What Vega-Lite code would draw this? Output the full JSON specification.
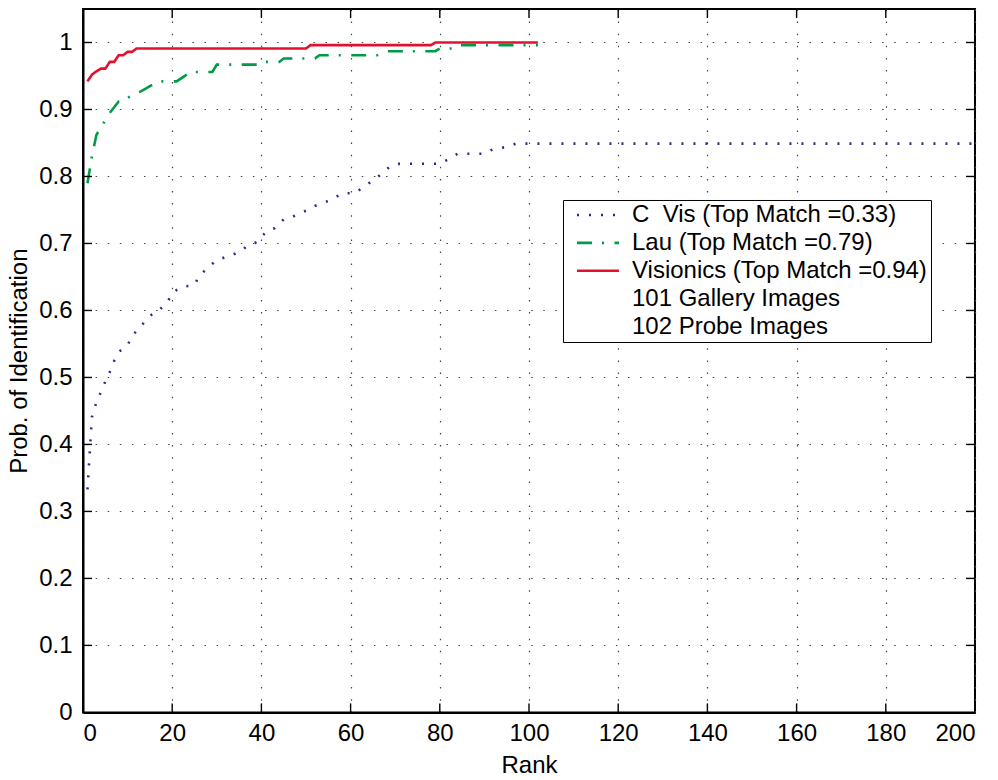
{
  "$schema": "https://vega.github.io/schema/vega-lite/v6.json",
  "width": 892,
  "height": 703.4,
  "autosize": "none",
  "padding": {"left": 83, "top": 9, "right": 23, "bottom": 68},
  "background": "white",
  "config": {
    "font": "Liberation Sans",
    "view": {"stroke": "black", "strokeWidth": 2},
    "axis": {
      "domainColor": "black",
      "domainWidth": 2,
      "labelColor": "black",
      "labelFont": "Liberation Sans",
      "labelFontSize": 24,
      "titleFont": "Liberation Sans",
      "titleFontSize": 24,
      "titleFontWeight": "normal",
      "titleColor": "black",
      "gridColor": "#444444",
      "gridWidth": 1.2,
      "gridDash": [1.5, 10.6],
      "gridOpacity": 1
    }
  },
  "datasets": {
    "curves": [
      {"series": "CVis", "rank": 1, "p": 0.333},
      {"series": "CVis", "rank": 2, "p": 0.441},
      {"series": "CVis", "rank": 3, "p": 0.463},
      {"series": "CVis", "rank": 4, "p": 0.478},
      {"series": "CVis", "rank": 5, "p": 0.494},
      {"series": "CVis", "rank": 6, "p": 0.508},
      {"series": "CVis", "rank": 7, "p": 0.525},
      {"series": "CVis", "rank": 8, "p": 0.538},
      {"series": "CVis", "rank": 10, "p": 0.548},
      {"series": "CVis", "rank": 11, "p": 0.562},
      {"series": "CVis", "rank": 13, "p": 0.577},
      {"series": "CVis", "rank": 15, "p": 0.592},
      {"series": "CVis", "rank": 17, "p": 0.6},
      {"series": "CVis", "rank": 19, "p": 0.613},
      {"series": "CVis", "rank": 20, "p": 0.626},
      {"series": "CVis", "rank": 22, "p": 0.635},
      {"series": "CVis", "rank": 25, "p": 0.638},
      {"series": "CVis", "rank": 26, "p": 0.651},
      {"series": "CVis", "rank": 28, "p": 0.664},
      {"series": "CVis", "rank": 30, "p": 0.675},
      {"series": "CVis", "rank": 33, "p": 0.682},
      {"series": "CVis", "rank": 35, "p": 0.687},
      {"series": "CVis", "rank": 37, "p": 0.697},
      {"series": "CVis", "rank": 39, "p": 0.702},
      {"series": "CVis", "rank": 41, "p": 0.717},
      {"series": "CVis", "rank": 43, "p": 0.723},
      {"series": "CVis", "rank": 45, "p": 0.736},
      {"series": "CVis", "rank": 47, "p": 0.74},
      {"series": "CVis", "rank": 50, "p": 0.749},
      {"series": "CVis", "rank": 52, "p": 0.756},
      {"series": "CVis", "rank": 54, "p": 0.761},
      {"series": "CVis", "rank": 56, "p": 0.766},
      {"series": "CVis", "rank": 58, "p": 0.775},
      {"series": "CVis", "rank": 61, "p": 0.775},
      {"series": "CVis", "rank": 63, "p": 0.785},
      {"series": "CVis", "rank": 65, "p": 0.794},
      {"series": "CVis", "rank": 67, "p": 0.804},
      {"series": "CVis", "rank": 69, "p": 0.816},
      {"series": "CVis", "rank": 71, "p": 0.819},
      {"series": "CVis", "rank": 80, "p": 0.819},
      {"series": "CVis", "rank": 82, "p": 0.826},
      {"series": "CVis", "rank": 84, "p": 0.834},
      {"series": "CVis", "rank": 90, "p": 0.834},
      {"series": "CVis", "rank": 92, "p": 0.841},
      {"series": "CVis", "rank": 95, "p": 0.844},
      {"series": "CVis", "rank": 97, "p": 0.849},
      {"series": "CVis", "rank": 200, "p": 0.849},
      {"series": "Lau", "rank": 1, "p": 0.79},
      {"series": "Lau", "rank": 2, "p": 0.83},
      {"series": "Lau", "rank": 3, "p": 0.862},
      {"series": "Lau", "rank": 5, "p": 0.884},
      {"series": "Lau", "rank": 6, "p": 0.895},
      {"series": "Lau", "rank": 8, "p": 0.912},
      {"series": "Lau", "rank": 9, "p": 0.912},
      {"series": "Lau", "rank": 11, "p": 0.922},
      {"series": "Lau", "rank": 13, "p": 0.927},
      {"series": "Lau", "rank": 15, "p": 0.935},
      {"series": "Lau", "rank": 17, "p": 0.942},
      {"series": "Lau", "rank": 21, "p": 0.942},
      {"series": "Lau", "rank": 23, "p": 0.951},
      {"series": "Lau", "rank": 24, "p": 0.956},
      {"series": "Lau", "rank": 29, "p": 0.956},
      {"series": "Lau", "rank": 30, "p": 0.967},
      {"series": "Lau", "rank": 40, "p": 0.967},
      {"series": "Lau", "rank": 41, "p": 0.971},
      {"series": "Lau", "rank": 44, "p": 0.971},
      {"series": "Lau", "rank": 45, "p": 0.976},
      {"series": "Lau", "rank": 52, "p": 0.976},
      {"series": "Lau", "rank": 53, "p": 0.981},
      {"series": "Lau", "rank": 66, "p": 0.981},
      {"series": "Lau", "rank": 68, "p": 0.987},
      {"series": "Lau", "rank": 79, "p": 0.987},
      {"series": "Lau", "rank": 80, "p": 0.991},
      {"series": "Lau", "rank": 83, "p": 0.991},
      {"series": "Lau", "rank": 84, "p": 0.996},
      {"series": "Lau", "rank": 102, "p": 0.996},
      {"series": "Visionics", "rank": 1, "p": 0.942},
      {"series": "Visionics", "rank": 2, "p": 0.952},
      {"series": "Visionics", "rank": 3, "p": 0.957},
      {"series": "Visionics", "rank": 4, "p": 0.961},
      {"series": "Visionics", "rank": 5, "p": 0.961},
      {"series": "Visionics", "rank": 6, "p": 0.971},
      {"series": "Visionics", "rank": 7, "p": 0.971},
      {"series": "Visionics", "rank": 8, "p": 0.981},
      {"series": "Visionics", "rank": 9, "p": 0.981},
      {"series": "Visionics", "rank": 10, "p": 0.986},
      {"series": "Visionics", "rank": 11, "p": 0.986},
      {"series": "Visionics", "rank": 12, "p": 0.991},
      {"series": "Visionics", "rank": 50, "p": 0.991},
      {"series": "Visionics", "rank": 51, "p": 0.996},
      {"series": "Visionics", "rank": 78, "p": 0.996},
      {"series": "Visionics", "rank": 79, "p": 1.0},
      {"series": "Visionics", "rank": 102, "p": 1.0}
    ],
    "xticks": [
      {"rank": 20}, {"rank": 40}, {"rank": 60}, {"rank": 80}, {"rank": 100},
      {"rank": 120}, {"rank": 140}, {"rank": 160}, {"rank": 180}
    ],
    "yticks": [
      {"p": 0.1}, {"p": 0.2}, {"p": 0.3}, {"p": 0.4}, {"p": 0.5},
      {"p": 0.6}, {"p": 0.7}, {"p": 0.8}, {"p": 0.9}, {"p": 1}
    ]
  },
  "layer": [
    {
      "data": {"name": "curves"},
      "mark": {"type": "line", "strokeWidth": 2.6, "clip": true},
      "encoding": {
        "x": {
          "field": "rank", "type": "quantitative",
          "scale": {"domain": [0, 200], "nice": false, "zero": false},
          "axis": {"values": [0, 20, 40, 60, 80, 100, 120, 140, 160, 180, 200], "title": "Rank", "ticks": false, "labelPadding": 9, "titlePadding": 8, "grid": true}
        },
        "y": {
          "field": "p", "type": "quantitative",
          "scale": {"domain": [0, 1.05], "nice": false, "zero": false},
          "axis": {"values": [0, 0.1, 0.2, 0.3, 0.4, 0.5, 0.6, 0.7, 0.8, 0.9, 1], "format": "~g", "title": "Prob. of Identification", "ticks": false, "labelPadding": 11, "titlePadding": 7, "grid": true}
        },
        "color": {
          "field": "series", "type": "nominal",
          "scale": {"domain": ["CVis", "Lau", "Visionics", "Gallery", "Probe"], "range": ["#2e2a86", "#009b45", "#e3102e", "transparent", "transparent"]},
          "legend": {
            "orient": "none", "legendX": 480, "legendY": 191, "title": null,
            "symbolType": "M-2.1,0H2.1", "symbolSize": 400, "symbolStrokeWidth": 2.6,
            "symbolOffset": 20, "labelOffset": 22,
            "labelFontSize": 24, "labelFont": "Liberation Sans", "labelColor": "black", "labelLimit": 0,
            "rowPadding": 3.9, "padding": 3, "strokeColor": "black", "fillColor": "white",
            "labelExpr": "datum.label == 'CVis' ? 'C\u00a0\u00a0Vis (Top Match =0.33)' : datum.label == 'Lau' ? 'Lau (Top Match =0.79)' : datum.label == 'Visionics' ? 'Visionics (Top Match =0.94)\u00a0\u00a0\u00a0' : datum.label == 'Gallery' ? '101 Gallery Images' : '102 Probe Images'"
          }
        },
        "strokeDash": {
          "field": "series", "type": "nominal",
          "scale": {"domain": ["CVis", "Lau", "Visionics", "Gallery", "Probe"], "range": [[2, 10], [15, 10, 2, 10.5], [1, 0], [1, 0], [1, 0]]},
          "legend": {
            "orient": "none", "legendX": 480, "legendY": 191, "title": null,
            "symbolType": "M-2.1,0H2.1", "symbolSize": 400, "symbolStrokeWidth": 2.6,
            "symbolOffset": 20, "labelOffset": 22,
            "labelFontSize": 24, "labelFont": "Liberation Sans", "labelColor": "black", "labelLimit": 0,
            "rowPadding": 3.9, "padding": 3, "strokeColor": "black", "fillColor": "white",
            "labelExpr": "datum.label == 'CVis' ? 'C\u00a0\u00a0Vis (Top Match =0.33)' : datum.label == 'Lau' ? 'Lau (Top Match =0.79)' : datum.label == 'Visionics' ? 'Visionics (Top Match =0.94)\u00a0\u00a0\u00a0' : datum.label == 'Gallery' ? '101 Gallery Images' : '102 Probe Images'"
          }
        }
      }
    },
    {
      "data": {"name": "xticks"},
      "mark": {"type": "rule", "strokeWidth": 1.4, "color": "black"},
      "encoding": {
        "x": {"field": "rank", "type": "quantitative"},
        "y": {"datum": 0, "type": "quantitative"},
        "y2": {"datum": 0.0134}
      }
    },
    {
      "data": {"name": "xticks"},
      "mark": {"type": "rule", "strokeWidth": 1.4, "color": "black"},
      "encoding": {
        "x": {"field": "rank", "type": "quantitative"},
        "y": {"datum": 1.05, "type": "quantitative"},
        "y2": {"datum": 1.0366}
      }
    },
    {
      "data": {"name": "yticks"},
      "mark": {"type": "rule", "strokeWidth": 1.4, "color": "black"},
      "encoding": {
        "y": {"field": "p", "type": "quantitative"},
        "x": {"datum": 0, "type": "quantitative"},
        "x2": {"datum": 2.02}
      }
    },
    {
      "data": {"name": "yticks"},
      "mark": {"type": "rule", "strokeWidth": 1.4, "color": "black"},
      "encoding": {
        "y": {"field": "p", "type": "quantitative"},
        "x": {"datum": 200, "type": "quantitative"},
        "x2": {"datum": 197.98}
      }
    }
  ]
}
